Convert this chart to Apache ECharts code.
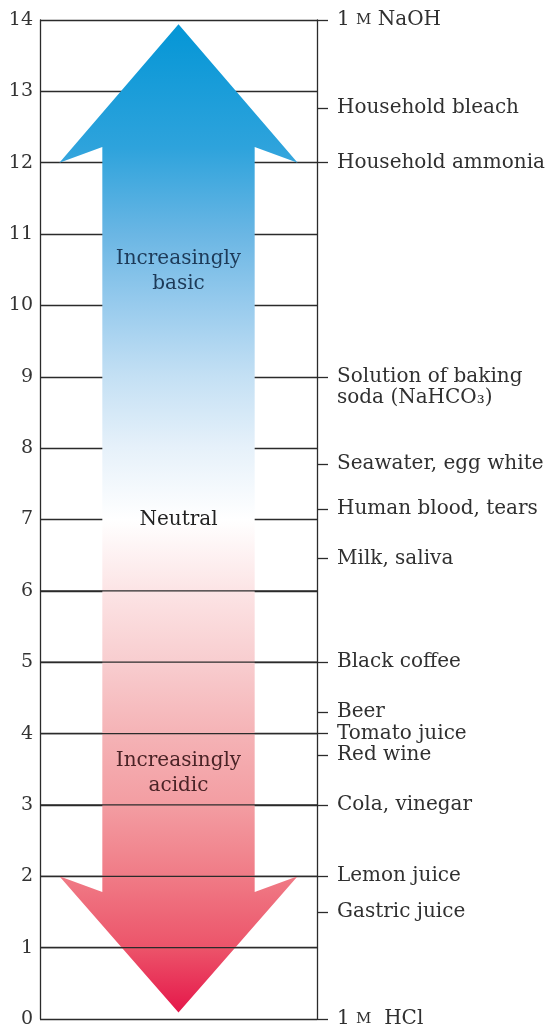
<!DOCTYPE html>
<html>
<head>
<meta charset="utf-8">
<script src="https://cdn.jsdelivr.net/npm/echarts@6/dist/echarts.min.js"></script>
<style>
  html, body { margin: 0; padding: 0; background: #ffffff; }
  #chart { width: 552px; height: 1033px; }
</style>
</head>
<body>
<div id="chart"></div>
<script>
// ---- data ----
var phTicks = [0, 1, 2, 3, 4, 5, 6, 7, 8, 9, 10, 11, 12, 13, 14];
var substanceNames = [
  '1 {sc|M} NaOH', 'Household bleach', 'Household ammonia',
  ' \nSolution of baking\nsoda (NaHCO\u2083)',
  'Seawater, egg white', 'Human blood, tears', 'Milk, saliva',
  'Black coffee', 'Beer', 'Tomato juice', 'Red wine', 'Cola, vinegar',
  'Lemon juice', 'Gastric juice', '1 {sc|M}  HCl'
];
var substancePH = [14, 12.77, 12, 9, 7.78, 7.15, 6.45, 5, 4.3, 4, 3.7, 3, 2, 1.5, 0];
// grid lines drawn over the (acidic) lower part of the arrow
var frontGridLines = [1, 2, 3, 4, 5, 6];
// arrow outline in (x: 0-100 width units, y: pH) coordinates
var arrowX = [50, 93, 77.5, 77.5, 93, 50, 7, 22.5, 22.5, 7];
var arrowY = [13.94, 12, 12.22, 1.78, 2, 0.09, 2, 1.78, 12.22, 12];
// arrow gradient: [pH, colour]
var gradientPH = [14, 12.2, 11, 10, 9, 8, 7, 6, 5, 4, 3, 2, 1, 0];
var gradientColors = ['#0496d6', '#2ea3dc', '#6ab6e4', '#98cbed', '#c4e0f4', '#e6f1fa', '#ffffff',
  '#fce4e5', '#f8cdcf', '#f5b3b6', '#f39da2', '#f07b86', '#ec546a', '#e5174a'];
// texts inside the arrow
var arrowTexts = ['Increasingly\nbasic', 'Neutral', 'Increasingly\nacidic'];
var arrowTextPH = [10.48, 7.0, 3.44];
var arrowTextColors = ['#1d3a58', '#222222', '#4a2326'];

var FONT = '"DejaVu Serif", "Liberation Serif", serif';
var LINE = '#2b2b2b';

var chart = echarts.init(document.getElementById('chart'), null, { renderer: 'canvas' });

function substanceLabel(value) {
  for (var i = 0; i < substancePH.length; i++) {
    if (Math.abs(substancePH[i] - value) < 1e-6) return substanceNames[i];
  }
  return '';
}

var arrowPts = arrowX.map(function (x, i) { return [x, arrowY[i]]; });
var arrowTop = Math.max.apply(null, arrowY), arrowBot = Math.min.apply(null, arrowY);
var gradStops = gradientPH.map(function (v, i) {
  var off = (arrowTop - v) / (arrowTop - arrowBot);
  return { offset: Math.min(1, Math.max(0, off)), color: gradientColors[i] };
});

var option = {
  backgroundColor: '#ffffff',
  animation: false,
  grid: { left: 40, right: 235, top: 20, bottom: 14, containLabel: false },
  xAxis: {
    type: 'value', min: 0, max: 100,
    axisLine: { show: false }, axisTick: { show: false },
    axisLabel: { show: false }, splitLine: { show: false }
  },
  yAxis: [
    {
      type: 'value', min: 0, max: 14, interval: 1, position: 'left',
      axisLine: { show: true, lineStyle: { color: LINE, width: 1.3 } },
      axisTick: { show: false },
      axisLabel: { fontFamily: FONT, fontSize: 19, color: '#333333', margin: 7,
        formatter: function (v) { return phTicks.indexOf(v) >= 0 ? String(v) : ''; } },
      splitLine: { show: true, lineStyle: { color: LINE, width: 1.3 } }
    },
    {
      type: 'value', min: 0, max: 14, position: 'right',
      axisLine: { show: true, onZero: false, lineStyle: { color: LINE, width: 1.3 } },
      axisTick: { show: true, inside: false, length: 11, customValues: substancePH,
        lineStyle: { color: LINE, width: 1.3 } },
      axisLabel: {
        show: true, customValues: substancePH, margin: 20,
        fontFamily: FONT, fontSize: 20, color: '#303030', lineHeight: 21,
        formatter: substanceLabel,
        rich: { sc: { fontFamily: FONT, fontSize: 15, color: '#303030' } }
      },
      splitLine: { show: false }
    }
  ],
  series: [
    {
      type: 'custom', z: 2,
      data: [0],
      renderItem: function (params, api) {
        var pts = arrowPts.map(function (p) { return api.coord(p); });
        return {
          type: 'polygon',
          shape: { points: pts },
          style: { fill: new echarts.graphic.LinearGradient(0, 0, 0, 1, gradStops) }
        };
      }
    },
    {
      type: 'custom', z: 3,
      data: frontGridLines,
      renderItem: function (params, api) {
        var v = api.value(0);
        var a = api.coord([0, v]), b = api.coord([100, v]);
        return {
          type: 'line',
          shape: { x1: a[0], y1: a[1], x2: b[0], y2: b[1] },
          style: { stroke: LINE, lineWidth: 1.3 }
        };
      }
    },
    {
      type: 'custom', z: 4,
      data: arrowTextPH.map(function (v, i) { return [50, v, i]; }),
      renderItem: function (params, api) {
        var i = api.value(2);
        var p = api.coord([api.value(0), api.value(1)]);
        return {
          type: 'text',
          x: p[0], y: p[1],
          style: {
            text: arrowTexts[i], fill: arrowTextColors[i],
            font: '20px ' + FONT, lineHeight: 25,
            align: 'center', verticalAlign: 'middle'
          }
        };
      }
    }
  ]
};
chart.setOption(option);
</script>
</body>
</html>
